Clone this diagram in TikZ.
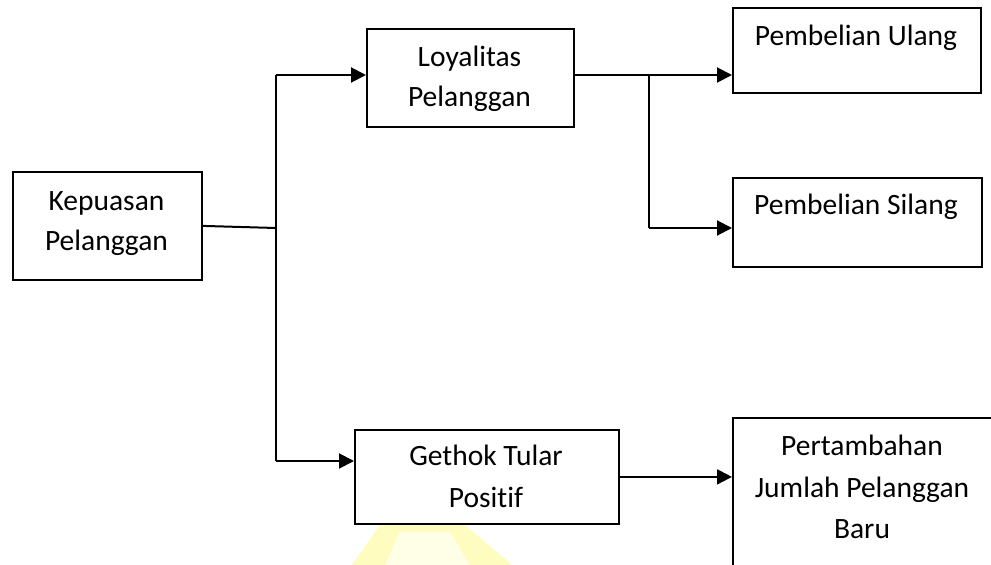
\documentclass[tikz,border=0pt]{standalone}
\usepackage{fontspec}
\setmainfont{Carlito}[Ligatures=NoCommon]
\usetikzlibrary{arrows.meta}
\begin{document}
\begin{tikzpicture}[x=1pt,y=-1pt,
  box/.style={draw=black,line width=1.8pt,rectangle,inner sep=0pt,anchor=north west},
  txt/.style={inner sep=0pt,anchor=base,font=\fontsize{29.5}{35}\selectfont},
  wire/.style={line width=2pt},
  arr/.style={wire,-{Triangle[length=15pt,width=15pt]}}]
\useasboundingbox (0,0) rectangle (991,565);
\clip (0,0) rectangle (991,565);
\fill[white] (0,0) rectangle (991,565);
% faint watermark
\fill[yellow!25!white] (380,525) -- (465,525) -- (512,565) -- (352,565) -- cycle;
\fill[yellow!10!white] (400,532) -- (450,532) -- (470,565) -- (385,565) -- cycle;
% boxes
\node[box,minimum width=189pt,minimum height=108pt] (kep) at (12,171) {};
\node[box,minimum width=207pt,minimum height=98pt] (loy) at (366,28) {};
\node[box,minimum width=264pt,minimum height=94pt] (get) at (354,429) {};
\node[box,minimum width=248pt,minimum height=85pt] (ulang) at (732,7) {};
\node[box,minimum width=249pt,minimum height=89pt] (silang) at (732,177) {};
\node[box,minimum width=300pt,minimum height=200pt] (pert) at (732,417) {};
% texts
\node[txt] (t1) at (106.5,210) {Kepuasan};
\node[txt] (t2) at (106.5,250) {Pelanggan};
\node[txt] (t3) at (469.5,66) {Loyalitas};
\node[txt] (t4) at (469.5,106) {Pelanggan};
\node[txt] (t5) at (486,465) {Gethok Tular};
\node[txt] (t6) at (486,507) {Positif};
\node[txt] (t7) at (856,45) {Pembelian Ulang};
\node[txt] (t8) at (856,214) {Pembelian Silang};
\node[txt] (t9) at (862,455) {Pertambahan};
\node[txt] (t10) at (862,497) {Jumlah Pelanggan};
\node[txt] (t11) at (862,538) {Baru};
% junctions
\coordinate (ja) at (276,228);
\coordinate (jt) at (276,75);
\coordinate (jb) at (276,461);
\coordinate (jc) at (649,75);
\coordinate (jd) at (649,228);
% connectors
\draw[wire] (kep.east) -- (ja);
\draw[wire] (jt) -- (jb);
\draw[arr] (jt) -- (jt -| loy.west);
\draw[arr] (jb) -- (jb -| get.west);
\draw[arr] (loy.east |- jt) -- (jt -| ulang.west);
\draw[wire] (jc) -- (jd);
\draw[arr] (jd) -- (jd -| silang.west);
\draw[arr] (get.east) -- (get.east -| pert.west);
\end{tikzpicture}
\end{document}
